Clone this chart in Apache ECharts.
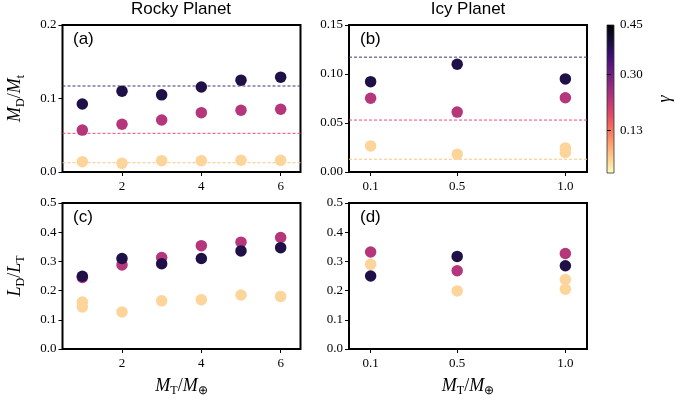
<!DOCTYPE html>
<html><head><meta charset="utf-8">
<script src="https://cdn.jsdelivr.net/npm/echarts@6/dist/echarts.min.js"></script>
<style>html,body{margin:0;padding:0;background:#fff}#c{width:675px;height:402px}</style>
</head><body><div id="c"></div>
<script>
// ---- data ----
const rockyX = [1, 2, 3, 4, 5, 6];
const rockyMassDark = [0.0925, 0.110, 0.105, 0.1157, 0.125, 0.129];
const rockyMassMag  = [0.057, 0.065, 0.0707, 0.0807, 0.084, 0.0853];
const rockyMassYel  = [0.014, 0.0118, 0.0154, 0.0154, 0.016, 0.0159];
const rockyMassLines = [0.117, 0.0526, 0.0126];

const rockyLumDark = [0.249, 0.310, 0.292, 0.310, 0.336, 0.347];
const rockyLumMag  = [0.245, 0.288, 0.313, 0.354, 0.366, 0.382];
const rockyLumYelX = [1, 1, 2, 3, 4, 5, 6];
const rockyLumYel  = [0.161, 0.144, 0.127, 0.165, 0.169, 0.185, 0.180];

const icyX = [0.1, 0.5, 1.0];
const icyMassDark = [0.0922, 0.110, 0.095];
const icyMassMag  = [0.0752, 0.0611, 0.0758];
const icyYelX = [0.1, 0.5, 1.0, 1.0];
const icyMassYel  = [0.0266, 0.0181, 0.0246, 0.0199];
const icyMassLines = [0.1172, 0.053, 0.013];

const icyLumDark = [0.250, 0.317, 0.285];
const icyLumMag  = [0.332, 0.268, 0.327];
const icyLumYel  = [0.290, 0.199, 0.238, 0.205];

const rockyRange = [0.5, 6.5];
const icyRange = [0, 1.1];
const rockyTicks = [2, 4, 6];
const icyTicks = [0.1, 0.5, 1.0];
const gammaTicks = [0.13, 0.30, 0.45];
const titles = ['Rocky Planet', 'Icy Planet'];
const panelLabels = ['(a)', '(b)', '(c)', '(d)'];

// ---- styles ----
const C_DARK = '#1f1148', C_MAG = '#b5367a', C_YEL = '#fdd49a';
const L_DARK = '#3c3478', L_MAG = '#ee4a78', L_YEL = '#fcc585';
const SERIF = 'Liberation Serif';
const pair = (xs, ys) => ys.map((y, i) => [xs[i], y]);

const grids = [
  {left: 62.5, top: 25, width: 238, height: 147},
  {left: 349, top: 25, width: 238, height: 147},
  {left: 62.5, top: 203, width: 238, height: 146},
  {left: 349, top: 203, width: 238, height: 146},
].map(g => Object.assign(g, {show: true, borderColor: '#000', borderWidth: 2, containLabel: false}));
const cbGrad = new echarts.graphic.LinearGradient(0, 0, 0, 1, [
  {offset: 0, color: '#000004'}, {offset: 0.1, color: '#140e36'}, {offset: 0.2, color: '#3b0f70'},
  {offset: 0.3, color: '#641a80'}, {offset: 0.4, color: '#8c2981'}, {offset: 0.5, color: '#b73779'},
  {offset: 0.6, color: '#de4968'}, {offset: 0.7, color: '#f7705c'}, {offset: 0.8, color: '#fe9f6d'},
  {offset: 0.9, color: '#fecf92'}, {offset: 1, color: '#fcfdbf'}]);
grids.push({left: 607, top: 25, width: 9, height: 148, show: true, borderColor: '#333', borderWidth: 0.8, backgroundColor: cbGrad});

const tickLabel = {color: '#000', fontFamily: SERIF, fontSize: 13};
const xName = '{i|M}{s|T}{n|/}{i|M}{s|⊕}';
const rich = {
  i: {fontFamily: SERIF, fontStyle: 'italic', fontSize: 18, lineHeight: 22, verticalAlign: 'middle', color: '#000'},
  n: {fontFamily: SERIF, fontSize: 18, lineHeight: 22, verticalAlign: 'middle', color: '#000'},
  s: {fontFamily: SERIF, fontSize: 12, lineHeight: 9, verticalAlign: 'bottom', color: '#000'},
};
function xAxis(idx, isRocky, showName) {
  const ticks = isRocky ? rockyTicks : icyTicks;
  const rng = isRocky ? rockyRange : icyRange;
  return {
    type: 'value', gridIndex: idx, min: rng[0], max: rng[1],
    axisLine: {show: false}, splitLine: {show: false},
    axisTick: {show: true, length: 4, customValues: ticks, lineStyle: {color: '#000', width: 1}},
    axisLabel: Object.assign({customValues: ticks, margin: 8,
      formatter: v => isRocky ? String(v) : v.toFixed(1)}, tickLabel),
    name: showName ? xName : '', nameLocation: 'middle', nameGap: 26,
    nameTextStyle: {rich},
  };
}
function yAxis(idx, max, interval, dec, name) {
  return {
    type: 'value', gridIndex: idx, min: 0, max, interval,
    axisLine: {show: false}, splitLine: {show: false},
    axisTick: {show: true, length: 4, lineStyle: {color: '#000', width: 1}},
    axisLabel: Object.assign({formatter: v => v.toFixed(dec), margin: 6}, tickLabel),
    name: name || '', nameLocation: 'middle', nameGap: 36, nameRotate: 90,
    nameTextStyle: {rich},
  };
}
const xAxes = [xAxis(0, true, false), xAxis(1, false, false), xAxis(2, true, true), xAxis(3, false, true),
  {type: 'value', gridIndex: 4, show: false, min: 0, max: 1}];
const yAxes = [
  yAxis(0, 0.2, 0.1, 1, '{i|M}{s|D}{n|/}{i|M}{s|t}'),
  yAxis(1, 0.15, 0.05, 2),
  yAxis(2, 0.5, 0.1, 1, '{i|L}{s|D}{n|/}{i|L}{s|T}'),
  yAxis(3, 0.5, 0.1, 1),
  {type: 'value', gridIndex: 4, position: 'right', min: 0, max: 0.45,
    axisLine: {show: false}, splitLine: {show: false},
    axisTick: {show: true, length: 4, customValues: gammaTicks, lineStyle: {color: '#000'}},
    axisLabel: Object.assign({customValues: gammaTicks, formatter: v => v.toFixed(2), margin: 6}, tickLabel),
    name: 'γ', nameLocation: 'middle', nameGap: 42, nameRotate: 90,
    nameTextStyle: {fontFamily: SERIF, fontStyle: 'italic', fontSize: 18, color: '#000'}},
];

function sc(idx, data, color) {
  return {type: 'scatter', xAxisIndex: idx, yAxisIndex: idx, data, symbolSize: 11.5,
    itemStyle: {color, opacity: 1}, z: 3, silent: true};
}
function hline(idx, rng, v, color) {
  return {type: 'line', xAxisIndex: idx, yAxisIndex: idx, data: [[rng[0], v], [rng[1], v]],
    symbol: 'none', silent: true, z: 2, lineStyle: {type: [3, 2], width: 1, color}};
}
const series = [
  hline(0, rockyRange, rockyMassLines[2], L_YEL),
  hline(0, rockyRange, rockyMassLines[1], L_MAG),
  hline(0, rockyRange, rockyMassLines[0], L_DARK),
  hline(1, icyRange, icyMassLines[2], L_YEL),
  hline(1, icyRange, icyMassLines[1], L_MAG),
  hline(1, icyRange, icyMassLines[0], L_DARK),
  sc(0, pair(rockyX, rockyMassYel), C_YEL),
  sc(0, pair(rockyX, rockyMassMag), C_MAG),
  sc(0, pair(rockyX, rockyMassDark), C_DARK),
  sc(1, pair(icyYelX, icyMassYel), C_YEL),
  sc(1, pair(icyX, icyMassMag), C_MAG),
  sc(1, pair(icyX, icyMassDark), C_DARK),
  sc(2, pair(rockyLumYelX, rockyLumYel), C_YEL),
  sc(2, pair(rockyX, rockyLumMag), C_MAG),
  sc(2, pair(rockyX, rockyLumDark), C_DARK),
  sc(3, pair(icyYelX, icyLumYel), C_YEL),
  sc(3, pair(icyX, icyLumMag), C_MAG),
  sc(3, pair(icyX, icyLumDark), C_DARK),
];

const titleStyle = {fontFamily: 'Liberation Sans', fontSize: 17, fontWeight: 'normal', color: '#000'};
const labStyle = {fontFamily: 'Liberation Sans', fontSize: 17, fontWeight: 'normal', color: '#000'};
const title = [
  {text: titles[0], left: 181, top: 1, textAlign: 'center', textStyle: titleStyle},
  {text: titles[1], left: 468, top: 1, textAlign: 'center', textStyle: titleStyle},
  {text: panelLabels[0], left: 73, top: 31, textStyle: labStyle},
  {text: panelLabels[1], left: 360, top: 31, textStyle: labStyle},
  {text: panelLabels[2], left: 73, top: 209, textStyle: labStyle},
  {text: panelLabels[3], left: 360, top: 209, textStyle: labStyle},
].map(t => Object.assign(t, {padding: 0}));

const chart = echarts.init(document.getElementById('c'), null, {renderer: 'canvas'});
chart.setOption({animation: false, backgroundColor: '#fff', title, grid: grids, xAxis: xAxes, yAxis: yAxes, series});
</script></body></html>
